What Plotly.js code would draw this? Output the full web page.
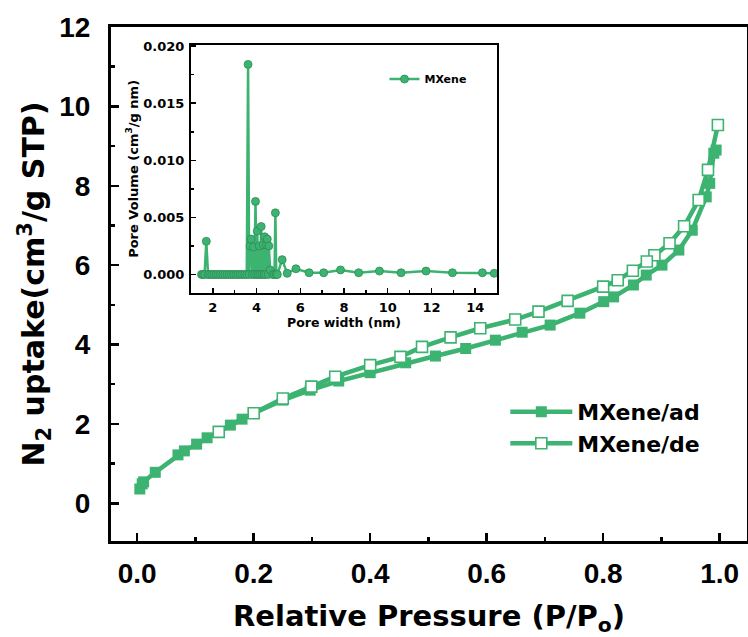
<!DOCTYPE html>
<html>
<head>
<meta charset="utf-8">
<script src="https://cdn.plot.ly/plotly-3.0.1.min.js"></script>
<style>html,body{margin:0;padding:0;background:#fff;}</style>
</head>
<body>
<div id="chart" style="width:748px;height:637px;"></div>
<script>
// Main isotherm: adsorption branch
const adPressure = [0.0045, 0.0086, 0.011, 0.031, 0.070, 0.081, 0.102, 0.120, 0.140, 0.160, 0.180, 0.200, 0.250, 0.297, 0.346, 0.400, 0.461, 0.512, 0.564, 0.615, 0.661, 0.709, 0.760, 0.801, 0.818, 0.852, 0.874, 0.901, 0.930, 0.953, 0.977, 0.983, 0.990, 0.994];
const adUptake   = [0.36, 0.49, 0.54, 0.78, 1.22, 1.32, 1.49, 1.65, 1.80, 1.97, 2.12, 2.27, 2.60, 2.85, 3.08, 3.29, 3.54, 3.71, 3.90, 4.11, 4.31, 4.49, 4.79, 5.08, 5.20, 5.50, 5.75, 6.00, 6.38, 6.88, 7.72, 8.06, 8.82, 8.90];
// Desorption branch
const dePressure = [0.997, 0.980, 0.964, 0.939, 0.914, 0.888, 0.875, 0.851, 0.825, 0.800, 0.739, 0.689, 0.649, 0.589, 0.538, 0.489, 0.452, 0.400, 0.340, 0.299, 0.250, 0.200, 0.140];
const deUptake   = [9.53, 8.40, 7.64, 6.98, 6.55, 6.25, 6.09, 5.86, 5.62, 5.46, 5.10, 4.83, 4.63, 4.41, 4.18, 3.94, 3.69, 3.48, 3.19, 2.94, 2.64, 2.27, 1.80];
// Inset: pore size distribution
const poreWidth  = [1.48, 1.55, 1.62, 1.70, 1.78, 1.86, 1.95, 2.05, 2.15, 2.25, 2.35, 2.45, 2.55, 2.65, 2.75, 2.85, 2.95, 3.05, 3.15, 3.25, 3.35, 3.45, 3.55, 3.61, 3.66, 3.70, 3.75, 3.80, 3.85, 3.90, 3.95, 4.00, 4.03, 4.08, 4.12, 4.16, 4.21, 4.26, 4.30, 4.34, 4.37, 4.41, 4.45, 4.49, 4.53, 4.56, 4.62, 4.74, 4.82, 4.86, 4.90, 4.95, 5.17, 5.40, 5.80, 6.40, 7.07, 7.84, 8.67, 9.62, 10.61, 11.75, 12.96, 14.33, 14.87];
const poreVolume = [0, 0, 0, 0.0029, 0, 0, 0, 0, 0, 0, 0, 0, 0, 0, 0, 0, 0, 0, 0, 0, 0, 0, 0, 0.0184, 0, 0.0025, 0.0031, 0, 0.0024, 0, 0.0064, 0, 0.0038, 0, 0.0025, 0, 0.0042, 0, 0.0026, 0, 0.0033, 0, 0.0026, 0.0031, 0, 0.0025, 0.0004, 0, 0, 0.0054, 0, 0, 0.0013, 0.0001, 0.0005, 0.00015, 0.00015, 0.0004, 0.00015, 0.0003, 0.00015, 0.0003, 0.00015, 0.00015, 0.0001];

const mainTicksX = [0, 0.2, 0.4, 0.6, 0.8, 1.0];
const mainTicksY = [0, 2, 4, 6, 8, 10, 12];
const insetTicksX = [2, 4, 6, 8, 10, 12, 14];
const insetTicksY = [0, 0.005, 0.010, 0.015, 0.020];

const green = '#3cb371';
const darkGreen = '#2e8b57';
const T = 'Liberation Sans, Arial, sans-serif';
const D = 'DejaVu Sans, sans-serif';

const traces = [
  {
    x: adPressure, y: adUptake, name: 'MXene/ad', type: 'scatter', mode: 'lines+markers',
    line: {color: green, width: 4.5},
    marker: {symbol: 'square', size: 11, color: green, line: {color: green, width: 0}},
    xaxis: 'x', yaxis: 'y', legend: 'legend'
  },
  {
    x: dePressure, y: deUptake, name: 'MXene/de', type: 'scatter', mode: 'lines+markers',
    line: {color: green, width: 4.5},
    marker: {symbol: 'square', size: 11, color: '#ffffff', line: {color: green, width: 1.6}},
    xaxis: 'x', yaxis: 'y', legend: 'legend'
  },
  {
    x: poreWidth, y: poreVolume, name: 'MXene', type: 'scatter', mode: 'lines+markers',
    line: {color: green, width: 2.5},
    marker: {symbol: 'circle', size: 8, color: green, line: {color: darkGreen, width: 0.8}},
    xaxis: 'x2', yaxis: 'y2', legend: 'legend2'
  }
];

const layout = {
  width: 748, height: 637,
  margin: {l: 111, r: 1, t: 27, b: 96, pad: 0},
  paper_bgcolor: '#ffffff', plot_bgcolor: '#ffffff',
  showlegend: true,
  xaxis: {
    domain: [0, 1], range: [-0.045, 1.047], anchor: 'y',
    tickvals: mainTicksX, ticktext: mainTicksX.map(v => v.toFixed(1)),
    ticks: 'inside', ticklen: 8, tickwidth: 2.5, tickcolor: '#000',
    minor: {dtick: 0.1, tick0: 0, ticks: 'inside', ticklen: 4, tickwidth: 2.5, tickcolor: '#000'},
    showline: true, linewidth: 3, linecolor: '#000', mirror: true,
    showgrid: false, zeroline: false,
    tickfont: {family: T, size: 28, color: '#000', weight: 'bold'},
    ticklabelstandoff: 5,
    title: {text: 'Relative Pressure (P/P<sub>o</sub>)', font: {family: D, size: 29, color: '#000', weight: 'bold'}, standoff: 20}
  },
  yaxis: {
    domain: [0, 1], range: [-0.95, 12.0], anchor: 'x',
    tickvals: mainTicksY, ticktext: mainTicksY.map(v => String(v)),
    ticks: 'inside', ticklen: 8, tickwidth: 2.5, tickcolor: '#000',
    minor: {dtick: 1, tick0: 0, ticks: 'inside', ticklen: 4, tickwidth: 2.5, tickcolor: '#000'},
    showline: true, linewidth: 3, linecolor: '#000', mirror: true,
    showgrid: false, zeroline: false,
    tickfont: {family: T, size: 28, color: '#000', weight: 'bold'},
    ticklabelstandoff: 12,
    title: {text: 'N<sub>2</sub> uptake(cm<sup>3</sup>/g STP)', font: {family: D, size: 30, color: '#000', weight: 'bold'}, standoff: 6}
  },
  xaxis2: {
    domain: [0.1258, 0.607], range: [1, 15], anchor: 'y2',
    tickvals: insetTicksX, ticktext: insetTicksX.map(v => String(v)),
    ticks: 'inside', ticklen: 5, tickwidth: 1.5, tickcolor: '#000',
    minor: {dtick: 1, tick0: 0, ticks: 'inside', ticklen: 3, tickwidth: 1.5, tickcolor: '#000'},
    showline: true, linewidth: 2, linecolor: '#000', mirror: true,
    showgrid: false, zeroline: false,
    tickfont: {family: D, size: 13, color: '#000', weight: 'bold'},
    ticklabelstandoff: 2,
    title: {text: 'Pore width (nm)', font: {family: D, size: 12.5, color: '#000', weight: 'bold'}, standoff: 2}
  },
  yaxis2: {
    domain: [0.483, 0.965], range: [-0.0016, 0.0201], anchor: 'x2',
    tickvals: insetTicksY, ticktext: insetTicksY.map(v => v.toFixed(3)),
    ticks: 'inside', ticklen: 5, tickwidth: 1.5, tickcolor: '#000',
    minor: {dtick: 0.0025, tick0: 0, ticks: 'inside', ticklen: 3, tickwidth: 1.5, tickcolor: '#000'},
    showline: true, linewidth: 2, linecolor: '#000', mirror: true,
    showgrid: false, zeroline: false,
    tickfont: {family: D, size: 13, color: '#000', weight: 'bold'},
    ticklabelstandoff: 2,
    title: {text: 'Pore Volume (cm<sup>3</sup>/g nm)', font: {family: D, size: 13, color: '#000', weight: 'bold'}, standoff: 2}
  },
  legend: {
    x: 0.62, y: 0.292, xanchor: 'left', yanchor: 'top',
    bgcolor: 'rgba(0,0,0,0)', borderwidth: 0,
    font: {family: D, size: 22, color: '#000', weight: 'bold'},
    itemwidth: 62, tracegroupgap: 0
  },
  legend2: {
    x: 0.43, y: 0.927, xanchor: 'left', yanchor: 'top',
    bgcolor: 'rgba(0,0,0,0)', borderwidth: 0,
    font: {family: D, size: 11, color: '#000', weight: 'bold'},
    itemwidth: 30
  }
};

Plotly.newPlot('chart', traces, layout, {staticPlot: true, displayModeBar: false});
</script>
</body>
</html>
